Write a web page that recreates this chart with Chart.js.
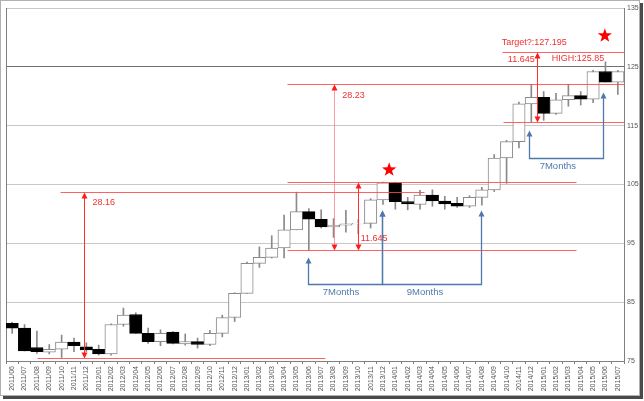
<!DOCTYPE html>
<html>
<head>
<meta charset="utf-8">
<script src="https://cdn.jsdelivr.net/npm/chart.js@4.4.1/dist/chart.umd.min.js"></script>
<style>
	html, body { margin: 0; padding: 0; background: #fff; }
	#wrap { position: relative; width: 644px; height: 401px; }
</style>
</head>
<body>
<div id="wrap"><canvas id="chart"></canvas></div>
<script>
// Monthly candles 2011/06 - 2015/07
const months = [
	'2011/06', '2011/07', '2011/08', '2011/09', '2011/10', '2011/11', '2011/12',
	'2012/01', '2012/02', '2012/03', '2012/04', '2012/05', '2012/06', '2012/07', '2012/08', '2012/09', '2012/10', '2012/11', '2012/12',
	'2013/01', '2013/02', '2013/03', '2013/04', '2013/05', '2013/06', '2013/07', '2013/08', '2013/09', '2013/10', '2013/11', '2013/12',
	'2014/01', '2014/02', '2014/03', '2014/04', '2014/05', '2014/06', '2014/07', '2014/08', '2014/09', '2014/10', '2014/11', '2014/12',
	'2015/01', '2015/02', '2015/03', '2015/04', '2015/05', '2015/06', '2015/07'
];
const opens = [
	81.4, 80.6, 77.3, 76.5, 77.0, 78.2, 77.4,
	77.0, 76.2, 81.2, 82.9, 79.7, 78.3, 79.9, 77.9, 78.3, 77.8, 79.7, 82.4,
	86.5, 91.6, 92.6, 94.2, 97.3, 100.4, 99.1, 97.8, 98.1, 98.3, 98.4, 102.4,
	105.3, 102.1, 101.6, 103.2, 102.2, 101.8, 101.3, 102.8, 104.1, 109.5, 112.3, 118.7,
	119.8, 117.1, 119.4, 120.1, 119.5, 124.2, 122.4
];
const highs = [
	81.6, 81.2, 80.1, 77.8, 79.4, 78.9, 78.1,
	77.7, 81.3, 84.0, 83.2, 80.6, 80.3, 80.0, 79.6, 78.9, 80.2, 82.8, 86.6,
	91.8, 94.4, 96.3, 99.8, 103.7, 100.9, 100.7, 99.2, 100.6, 99.0, 102.6, 105.4,
	105.4, 102.8, 104.0, 104.1, 103.0, 102.8, 103.1, 104.5, 110.1, 112.5, 119.0, 122.0,
	120.8, 120.5, 122.0, 120.8, 124.4, 125.85, 124.4
];
const lows = [
	79.7, 76.7, 76.3, 76.2, 75.6, 76.6, 76.6,
	76.0, 76.0, 80.9, 79.7, 78.0, 77.6, 77.9, 77.7, 77.2, 77.6, 79.1, 81.7,
	86.5, 90.9, 92.5, 92.5, 97.3, 93.8, 97.6, 96.0, 96.9, 96.6, 97.6, 101.6,
	100.8, 100.7, 100.8, 101.3, 100.8, 101.1, 101.1, 101.5, 103.8, 105.2, 111.2, 115.6,
	115.9, 116.9, 118.3, 118.5, 118.9, 122.4, 120.3
];
const closes = [
	80.6, 76.7, 76.6, 77.0, 78.2, 77.6, 76.9,
	76.2, 81.2, 82.8, 79.7, 78.3, 79.7, 78.0, 78.3, 77.8, 79.7, 82.4, 86.5,
	91.6, 92.6, 94.2, 97.3, 100.4, 99.1, 97.8, 98.1, 98.3, 98.4, 102.4, 105.3,
	102.1, 101.7, 103.2, 102.2, 101.7, 101.3, 102.8, 104.1, 109.5, 112.3, 118.7, 119.8,
	117.1, 119.4, 120.1, 119.5, 124.2, 122.4, 124.2
];
const yTicks = [75, 85, 95, 105, 115, 125, 135];

// Red level lines: [value, fromIndex, toIndex]
const redLevels = [
	[75.56, 2.0, 25.3],
	[103.72, 3.9, 33.3],
	[93.79, 22.2, 45.6],
	[105.435, 22.2, 45.6],
	[122.02, 22.2, 49.5],
	[115.7, 39.7, 49.5],
	[127.6, 39.6, 49.5]
];
// Red double arrows: [index, fromValue, toValue, color]
const redArrows = [
	[5.85, 75.56, 103.72, '#ff3030'],
	[26.05, 93.79, 122.02, 'rgba(255,90,90,0.6)'],
	[28.0, 93.79, 105.435, '#ff3030'],
	[42.5, 115.7, 127.6, '#ff3030']
];
const redLabels = [
	['28.16', 6.5, 101.9],
	['28.23', 26.7, 120.1],
	['11.645', 28.2, 95.9],
	['Target?:127.195', 39.6, 129.1],
	['11.645', 40.1, 126.2],
	['HIGH:125.85', 43.65, 126.35]
];
const stars = [[30.5, 107.5], [47.95, 130.3]];
// Blue brackets: [fromIndex, fromTip, toIndex, toTip, baseValue]
const spans = [
	[23.93, 92.7, 29.94, 100.7, 88.1],
	[29.94, 100.7, 37.9, 100.7, 88.1],
	[41.8, 114.3, 47.8, 120.75, 109.5]
];
const spanLabels = [['7Months', 26.6, 86.6], ['9Months', 33.4, 86.6], ['7Months', 44.15, 108.0]];

const bodies = months.map((m, i) => [opens[i], closes[i]]);
const wicks = months.map((m, i) => [lows[i], highs[i]]);
const isUp = (i) => closes[i] >= opens[i];

function arrowHead(ctx, x0, y0, dir, color) {
	// dir -1: tip points up, 1: tip points down
	ctx.fillStyle = color;
	ctx.beginPath();
	ctx.moveTo(x0, y0);
	ctx.lineTo(x0 - 3, y0 - dir * 6);
	ctx.lineTo(x0 + 3, y0 - dir * 6);
	ctx.closePath();
	ctx.fill();
}

function star(ctx, cx, cy, r) {
	ctx.beginPath();
	for (let k = 0; k < 10; k++) {
		const rad = k % 2 ? r * 0.4 : r;
		const ang = -Math.PI / 2 + k * Math.PI / 5;
		ctx.lineTo(cx + rad * Math.cos(ang), cy + rad * Math.sin(ang));
	}
	ctx.closePath();
	ctx.fill();
}

const overlay = {
	id: 'overlay',
	beforeDatasetsDraw(chart) {
		const { ctx, chartArea: a } = chart;
		ctx.save();
		ctx.strokeStyle = '#808080';
		ctx.lineWidth = 1;
		ctx.beginPath();
		ctx.moveTo(a.left + 0.5, a.top);
		ctx.lineTo(a.left + 0.5, a.bottom);
		ctx.stroke();
		ctx.restore();
	},
	afterDatasetsDraw(chart) {
		const { ctx, scales: { x, y } } = chart;
		const px = (i) => Math.round(x.getPixelForValue(i)) + 0.5;
		const py = (v) => Math.round(y.getPixelForValue(v)) + 0.5;
		ctx.save();
		ctx.lineWidth = 1;

		ctx.strokeStyle = 'rgba(255,70,70,0.85)';
		redLevels.forEach(([v, a, b]) => {
			ctx.beginPath();
			ctx.moveTo(px(a), py(v));
			ctx.lineTo(px(b), py(v));
			ctx.stroke();
		});

		redArrows.forEach(([i, v1, v2, col]) => {
			const xx = px(i);
			ctx.strokeStyle = col;
			ctx.beginPath();
			ctx.moveTo(xx, py(v1) - 4);
			ctx.lineTo(xx, py(v2) + 4);
			ctx.stroke();
			arrowHead(ctx, xx, py(v1), 1, '#ff1a1a');
			arrowHead(ctx, xx, py(v2), -1, '#ff1a1a');
		});

		ctx.font = '9px "Liberation Sans", Arial, sans-serif';
		ctx.textBaseline = 'middle';
		ctx.textAlign = 'left';
		ctx.fillStyle = '#f03030';
		redLabels.forEach(([t, i, v]) => ctx.fillText(t, x.getPixelForValue(i), y.getPixelForValue(v)));

		ctx.fillStyle = '#ff0000';
		stars.forEach(([i, v]) => star(ctx, x.getPixelForValue(i), y.getPixelForValue(v), 7.5));

		const blue = '#4f79ad';
		ctx.strokeStyle = blue;
		ctx.lineWidth = 1.3;
		spans.forEach(([a, ta, b, tb, base]) => {
			ctx.beginPath();
			ctx.moveTo(px(a), py(ta) + 4);
			ctx.lineTo(px(a), py(base));
			ctx.lineTo(px(b), py(base));
			ctx.lineTo(px(b), py(tb) + 4);
			ctx.stroke();
			arrowHead(ctx, px(a), py(ta), -1, blue);
			arrowHead(ctx, px(b), py(tb), -1, blue);
		});
		ctx.font = '9.5px "Liberation Sans", Arial, sans-serif';
		ctx.textAlign = 'center';
		ctx.fillStyle = '#4f79ad';
		spanLabels.forEach(([t, i, v]) => ctx.fillText(t, x.getPixelForValue(i), y.getPixelForValue(v)));
		ctx.restore();
	},
	afterDraw(chart) {
		const { ctx } = chart;
		ctx.save();
		ctx.strokeStyle = '#b0b0b0';
		ctx.lineWidth = 1;
		ctx.strokeRect(0.5, 0.5, 639, 395);
		ctx.fillStyle = '#4a4a4a';
		ctx.fillRect(640, 3, 3, 396);
		ctx.fillRect(3, 396, 640, 3);
		ctx.restore();
	}
};

new Chart(document.getElementById('chart'), {
	type: 'bar',
	data: {
		labels: months,
		datasets: [
			{ data: wicks, grouped: false, order: 2, barThickness: 1, backgroundColor: '#8a8a8a' },
			{
				data: bodies, grouped: false, order: 1, barPercentage: 1, categoryPercentage: 1,
				borderSkipped: false, borderWidth: 1,
				backgroundColor: months.map((m, i) => isUp(i) ? '#ffffff' : '#000000'),
				borderColor: months.map((m, i) => isUp(i) ? '#8a8a8a' : '#000000')
			}
		]
	},
	options: {
		responsive: true,
		maintainAspectRatio: false,
		animation: false,
		layout: { padding: { left: 6, top: 8, right: 0, bottom: 0 } },
		plugins: { legend: { display: false }, tooltip: { enabled: false } },
		scales: {
			x: {
				offset: true,
				grid: { offset: true, drawOnChartArea: false, tickLength: 3, color: '#808080' },
				border: { color: '#808080' },
				ticks: { autoSkip: false, maxRotation: 90, minRotation: 90, padding: 2, color: '#555', font: { family: 'Liberation Sans', size: 7 } },
				afterFit: (s) => { s.height = 40; }
			},
			y: {
				position: 'right',
				min: 75,
				max: 135,
				afterBuildTicks: (s) => { s.ticks = yTicks.map(v => ({ value: v })); },
				grid: { color: (c) => c.tick && c.tick.value === 125 ? '#707070' : '#c8c8c8', drawTicks: false },
				border: { color: '#808080' },
				ticks: { padding: 3, color: '#555', font: { family: 'Liberation Sans', size: 7 } },
				afterFit: (s) => { s.width = 20; }
			}
		}
	},
	plugins: [overlay]
});
</script>
</body>
</html>
